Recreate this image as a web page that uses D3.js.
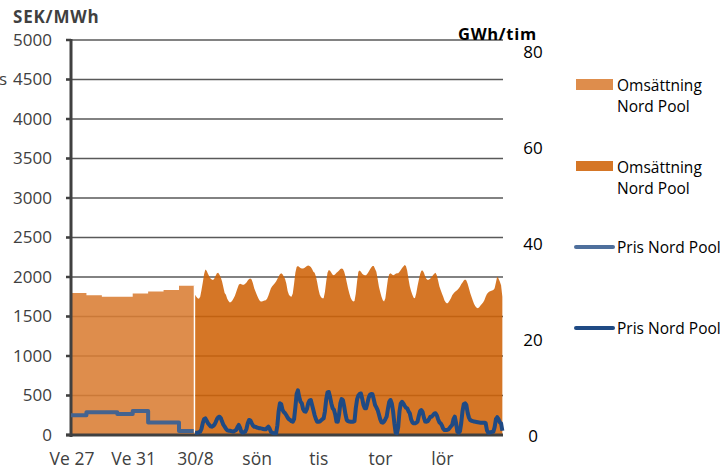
<!DOCTYPE html>
<html><head><meta charset="utf-8">
<script src="https://cdn.jsdelivr.net/npm/d3@7"></script>
<style>
body{margin:0;background:#fff;}
svg{display:block;font-family:"Open Sans",Lato,sans-serif;}
</style></head>
<body><svg id="c" width="725" height="471"></svg>
<script>
// ---- data ----
const weekLabels = ["Ve 27","Ve 31"];
const weekLabelIdx = [0,4];
const dayLabels = ["30/8","sön","tis","tor","lör"];
const dayLabelIdx = [0,2,4,6,8];
const leftTicks = [0,500,1000,1500,2000,2500,3000,3500,4000,4500,5000];
const rightTicks = [0,20,40,60,80];
// weekly values (weeks 27-34)
const weekVolume = [29.6,29.1,28.8,28.8,29.5,29.9,30.2,31.1];      // GWh/tim
const weekPrice  = [250,287,287,266,304,157,157,52];                 // SEK/MWh
// hourly values, 10 days from 30/8
const hourVolume = [
29.2,28.8,28.5,28.4,28.8,30.2,31.8,33.5,34.5,34.2,33.6,33.1,32.6,32.4,32.3,32.6,33.2,33.7,33.8,33.4,32.8,32.0,30.8,29.6,
29.2,28.4,27.9,27.6,27.7,28.0,28.5,29.0,29.8,30.6,31.3,31.5,31.4,31.3,31.3,31.5,31.8,32.2,32.5,32.6,32.4,31.6,30.6,29.9,
29.2,28.6,28.1,27.8,27.8,27.9,28.0,28.1,28.4,29.0,29.8,30.6,31.0,31.3,31.6,32.0,32.5,33.0,33.5,33.7,33.5,33.0,32.5,31.5,
30.0,29.2,28.9,28.8,29.5,31.5,33.8,35.0,35.2,35.0,34.8,34.7,34.7,34.8,35.0,35.2,35.3,35.2,35.0,34.6,34.0,33.8,33.0,31.8,
30.3,29.2,28.7,28.5,28.5,29.8,32.0,33.8,34.4,34.2,33.8,33.4,33.3,33.5,33.8,34.0,34.3,34.6,34.7,34.6,34.0,33.0,31.8,30.5,
29.5,28.6,28.1,27.8,27.9,29.5,32.0,34.0,34.3,34.0,33.6,33.4,33.3,33.3,33.6,34.0,34.5,34.9,35.2,35.2,34.6,34.0,32.5,30.9,
29.8,28.8,28.1,27.8,28.5,30.5,32.5,33.5,33.7,33.5,33.3,33.4,33.6,33.7,33.7,34.0,34.4,34.8,35.1,35.4,35.2,34.2,32.5,31.0,
30.0,29.2,28.6,28.5,29.5,31.0,32.3,33.5,34.2,34.3,33.8,33.0,32.5,32.3,32.4,32.6,32.9,33.3,33.6,33.8,33.3,32.2,31.0,30.2,
29.5,28.8,28.0,27.6,27.4,27.6,28.0,28.5,29.1,29.5,29.8,30.0,30.2,30.5,30.9,31.4,31.8,32.2,32.4,32.2,31.5,30.6,29.6,28.8,
28.0,27.3,26.8,26.5,26.4,26.6,27.0,27.3,27.6,28.1,28.8,29.4,29.7,29.9,30.0,30.1,30.2,30.6,31.8,33.0,32.6,32.0,31.2,28.8
];
const hourPrice = [
30,30,30,35,42,80,150,200,211,180,150,130,110,105,114,130,160,200,225,232,215,170,130,105,
80,60,54,54,50,45,45,55,63,100,127,90,40,29,35,42,80,150,190,185,150,120,105,105,
95,90,85,84,80,75,72,72,90,105,80,40,29,22,21,21,120,300,401,390,320,290,275,250,
220,200,190,175,168,200,350,520,565,480,420,401,330,300,295,330,400,435,443,380,316,250,200,168,
168,170,185,200,211,300,450,540,545,480,400,340,320,260,170,168,260,400,455,440,360,260,190,175,
170,168,168,168,175,338,450,500,520,525,460,380,340,338,400,470,510,519,515,450,380,350,316,260,
200,160,156,170,200,232,330,420,443,400,300,150,30,21,100,300,400,420,400,370,345,338,300,275,
200,160,148,148,155,168,240,300,316,290,220,170,168,175,200,232,232,250,270,275,250,200,160,148,
120,80,63,63,63,70,90,110,127,200,232,150,42,29,45,150,300,390,401,380,280,220,190,180,
175,170,168,165,160,158,156,156,156,156,150,60,29,30,35,40,42,100,200,225,200,160,148,54
];
const slotsPerWeek = 12;

// ---- layout ----
const svg = d3.select("#c");
const nWeeks = weekVolume.length;
const hourStart = nWeeks*slotsPerWeek;
const x = d3.scaleLinear().domain([0, hourStart + hourVolume.length]).range([71,503]);
const yL = d3.scaleLinear().domain([0,5000]).range([435,40]);
const yR = d3.scaleLinear().domain([0,82.3]).range([435,40]);

const cLight = "#DA7D33", cDark = "#CF6308";
const cLine1 = "#44638F", cLine2 = "#1F4A84";
const grid = "#595959";

// gridlines
svg.append("g").selectAll("line").data(leftTicks.filter(d=>d>0)).join("line")
  .attr("x1",66).attr("x2",503).attr("y1",d=>yL(d)).attr("y2",d=>yL(d))
  .attr("stroke",grid).attr("stroke-width",1.6);

// weekly area & hourly area
const weekPts = weekVolume.map((v,i)=>({s:i*slotsPerWeek, v}));
weekPts.push({s:hourStart, v:weekVolume[nWeeks-1]});
svg.append("path").datum(weekPts)
  .attr("d", d3.area().curve(d3.curveStepAfter).x(d=>x(d.s)).y0(yR(0)).y1(d=>yR(d.v)))
  .attr("fill",cLight).attr("fill-opacity",0.88);

const hourPts = hourVolume.map((v,i)=>({s:hourStart+i+0.5, v}));
svg.append("path").datum(hourPts)
  .attr("d", d3.area().x(d=>x(d.s)).y0(yR(0)).y1(d=>yR(d.v)))
  .attr("fill",cDark).attr("fill-opacity",0.88);

// separator
svg.append("line").attr("x1",x(hourStart)).attr("x2",x(hourStart))
  .attr("y1",yR(weekVolume[nWeeks-1])).attr("y2",yL(0)-3)
  .attr("stroke","#fff").attr("stroke-width",1.4);

// axes lines
svg.append("line").attr("x1",71).attr("x2",71).attr("y1",yL(5000)-1).attr("y2",yL(0)+2)
  .attr("stroke","#404040").attr("stroke-width",3);
svg.append("line").attr("x1",66).attr("x2",503).attr("y1",yL(0)).attr("y2",yL(0))
  .attr("stroke","#404040").attr("stroke-width",3);
svg.append("g").selectAll("line").data(leftTicks).join("line")
  .attr("x1",66).attr("x2",71).attr("y1",d=>yL(d)).attr("y2",d=>yL(d))
  .attr("stroke","#404040").attr("stroke-width",2.5);

// price lines
const wpPts = weekPrice.map((v,i)=>({s:i*slotsPerWeek, v}));
wpPts.push({s:hourStart-0.6, v:weekPrice[nWeeks-1]});
svg.append("path").datum(wpPts)
  .attr("d", d3.line().curve(d3.curveStepAfter).x(d=>x(d.s)).y(d=>yL(d.v)))
  .attr("fill","none").attr("stroke",cLine1).attr("stroke-width",4).attr("stroke-linejoin","round");
const hpPts = hourPrice.map((v,i)=>({s:hourStart+i+0.5, v}));
svg.append("path").datum(hpPts)
  .attr("d", d3.line().x(d=>x(d.s)).y(d=>yL(d.v)))
  .attr("fill","none").attr("stroke",cLine2).attr("stroke-width",4).attr("stroke-linejoin","round");

// left tick labels
const fs = 17;
svg.append("g").selectAll("text").data(leftTicks).join("text")
  .attr("x",52).attr("y",d=>yL(d)).attr("dy","0.35em").attr("text-anchor","end")
  .attr("font-size",fs).attr("fill","#404040").text(d=>d);
// right tick labels
svg.append("g").selectAll("text").data(rightTicks).join("text")
  .attr("x",533).attr("y",d=>yR(d)+1).attr("dy","0.35em").attr("text-anchor","middle")
  .attr("font-size",fs).attr("fill","#000").text(d=>d);
// cut off text at left
svg.append("text").attr("x",-1).attr("y",yL(4500)).attr("dy","0.35em")
  .attr("font-size",fs).attr("fill","#404040").text("s");
// titles
svg.append("text").attr("x",13).attr("y",23).attr("font-size",17).attr("font-weight","bold")
  .attr("letter-spacing",0.8).attr("fill","#404040").text("SEK/MWh");
svg.append("text").attr("x",458).attr("y",40).attr("font-size",16.5).attr("font-weight","bold")
  .attr("letter-spacing",0.7).attr("fill","#000").text("GWh/tim");

// x labels
const xl = weekLabels.map((t,i)=>({t, s:weekLabelIdx[i]*slotsPerWeek}))
  .concat(dayLabels.map((t,i)=>({t, s:hourStart+dayLabelIdx[i]*24})));
svg.append("g").selectAll("text").data(xl).join("text")
  .attr("x",d=>x(d.s)+1).attr("y",465).attr("text-anchor","middle")
  .attr("font-size",17.5).attr("fill","#404040").text(d=>d.t);

// legend
const lg = svg.append("g").attr("font-size",15.5).attr("fill","#000");
lg.append("rect").attr("x",576).attr("y",79).attr("width",37).attr("height",11).attr("fill",cLight).attr("fill-opacity",0.88);
lg.append("rect").attr("x",576).attr("y",161).attr("width",37).attr("height",10).attr("fill",cDark).attr("fill-opacity",0.88);
lg.append("line").attr("x1",576).attr("x2",613).attr("y1",247).attr("y2",247).attr("stroke","#4E6F9C").attr("stroke-width",4).attr("stroke-linecap","round");
lg.append("line").attr("x1",576).attr("x2",613).attr("y1",328).attr("y2",328).attr("stroke",cLine2).attr("stroke-width",4).attr("stroke-linecap","round");
[[91,"Omsättning"],[112,"Nord Pool"],[173,"Omsättning"],[194,"Nord Pool"],[253,"Pris Nord Pool"],[334,"Pris Nord Pool"]]
  .forEach(([y,t])=>lg.append("text").attr("x",617).attr("y",y).text(t));
</script></body></html>
